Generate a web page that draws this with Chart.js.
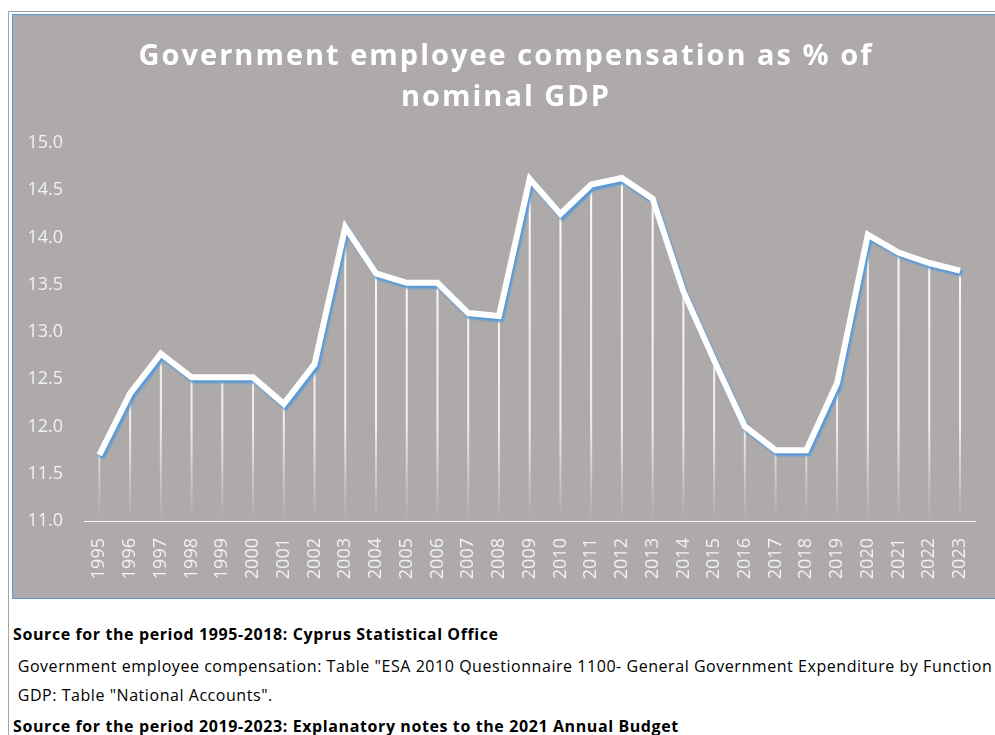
<!DOCTYPE html>
<html>
<head>
<meta charset="utf-8">
<script src="https://cdn.jsdelivr.net/npm/chart.js@4.4.1/dist/chart.umd.min.js"></script>
<style>
body { margin: 0; width: 995px; height: 735px; overflow: hidden; position: relative; background: #fff; font-family: "Open Sans", sans-serif; }
#pagina { position: absolute; left: 8px; top: 11px; width: 1100px; height: 800px; border-left: 1px solid #a5a5a5; border-top: 1px solid #a5a5a5; }
#caixa { position: absolute; left: 12px; top: 14px; width: 988px; height: 585px; box-sizing: border-box; border: 1px solid #5b9bd5; background: #aeaaaa; }
#titulo { position: absolute; left: 0; right: 0; top: 18px; text-align: center; color: #fff; font-weight: bold; font-size: 29px; line-height: 41px; letter-spacing: 2px; }
#area { position: absolute; left: 0; top: 0; width: 986px; height: 583px; }
.nota { position: absolute; left: 13px; font-family: "Open Sans", sans-serif; font-size: 16px; line-height: 20px; color: #000; white-space: nowrap; letter-spacing: 0.55px; }
.nota b { font-weight: bold; letter-spacing: 0.6px; }
</style>
</head>
<body>
<div id="pagina"></div>
<div id="caixa">
  <div id="area"><canvas id="graficoRemuneracao"></canvas></div>
  <div id="titulo">Government employee compensation as % of<br>nominal GDP</div>
</div>
<div class="nota" style="top:624px"><b>Source for the period 1995-2018: Cyprus Statistical Office</b></div>
<div class="nota" style="top:656px">&nbsp;Government employee compensation: Table "ESA 2010 Questionnaire 1100- General Government Expenditure by Function</div>
<div class="nota" style="top:685px">&nbsp;GDP: Table "National Accounts".</div>
<div class="nota" style="top:716px"><b>Source for the period 2019-2023: Explanatory notes to the 2021 Annual Budget</b></div>

<script>
const anos = [
    "1995", "1996", "1997", "1998", "1999", "2000", "2001", "2002", "2003", "2004",
    "2005", "2006", "2007", "2008", "2009", "2010", "2011", "2012", "2013", "2014",
    "2015", "2016", "2017", "2018", "2019", "2020", "2021", "2022", "2023"
];

// % do PIB nominal
const remuneracao = [
    11.70, 12.35, 12.77, 12.52, 12.52, 12.52, 12.24, 12.66, 14.11, 13.62,
    13.52, 13.52, 13.20, 13.17, 14.62, 14.25, 14.56, 14.63, 14.41, 13.43,
    12.70, 12.00, 11.75, 11.75, 12.46, 14.03, 13.84, 13.73, 13.65
];

const eixoY = { min: 11, max: 15, passo: 0.5 };

// linhas verticais de cada ponto ate o eixo + sombra azul da linha
const linhasVerticais = {
    id: "linhasVerticais",
    beforeDatasetsDraw(chart) {
        const { ctx, chartArea } = chart;
        const pontos = chart.getDatasetMeta(0).data;
        const grad = ctx.createLinearGradient(0, chartArea.top, 0, chartArea.bottom);
        grad.addColorStop(0, "rgba(255,255,255,1)");
        grad.addColorStop(0.75, "rgba(255,255,255,0.8)");
        grad.addColorStop(1, "rgba(255,255,255,0)");
        ctx.save();
        ctx.strokeStyle = grad;
        ctx.lineWidth = 2;
        pontos.forEach(p => {
            ctx.beginPath();
            ctx.moveTo(p.x, p.y);
            ctx.lineTo(p.x, chartArea.bottom);
            ctx.stroke();
        });
        ctx.restore();
    },
    beforeDatasetDraw(chart) {
        const ctx = chart.ctx;
        ctx.save();
        ctx.shadowColor = "#5b9bd5";
        ctx.shadowOffsetX = 2;
        ctx.shadowOffsetY = 3;
        ctx.shadowBlur = 2;
    },
    afterDatasetDraw(chart) {
        chart.ctx.restore();
    }
};

const ctx = document.getElementById("graficoRemuneracao").getContext("2d");

new Chart(ctx, {
    type: "line",
    data: {
        labels: anos,
        datasets: [{
            label: "Remuneração (% do PIB)",
            data: remuneracao,
            borderColor: "#ffffff",
            borderWidth: 6,
            pointRadius: 0,
            tension: 0,
            borderJoinStyle: "miter",
            fill: false
        }]
    },
    options: {
        responsive: true,
        maintainAspectRatio: false,
        animation: false,
        layout: { padding: { top: 128, right: 22, left: 0, bottom: 0 } },
        plugins: {
            legend: { display: false },
            tooltip: { enabled: false }
        },
        scales: {
            x: {
                offset: true,
                grid: { display: false, drawTicks: false },
                border: { display: true, color: "#f2f2f2", width: 1 },
                ticks: {
                    color: "#f2f2f2",
                    font: { family: "Open Sans", size: 18 },
                    minRotation: 90,
                    maxRotation: 90,
                    padding: 17,
                    autoSkip: false
                },
                afterFit: s => { s.height = 77; }
            },
            y: {
                min: eixoY.min,
                max: eixoY.max,
                grid: { display: false, drawTicks: false },
                border: { display: false },
                ticks: {
                    stepSize: eixoY.passo,
                    color: "#f2f2f2",
                    font: { family: "Open Sans", size: 18 },
                    padding: 21,
                    callback: v => v.toFixed(1)
                },
                afterFit: s => { s.width = 71; }
            }
        }
    },
    plugins: [linhasVerticais]
});
</script>
</body>
</html>
